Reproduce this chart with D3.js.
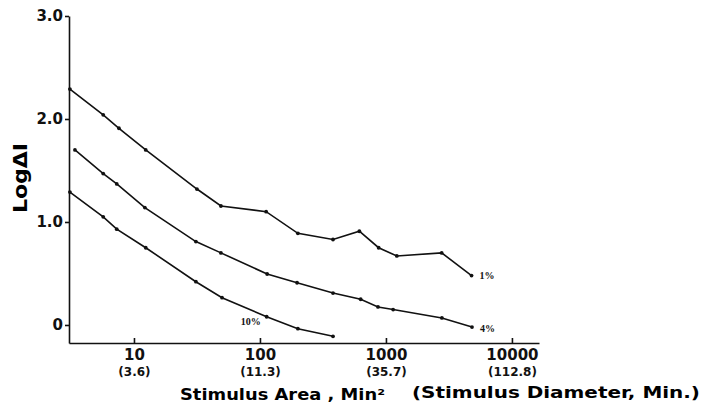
<!DOCTYPE html>
<html>
<head>
<meta charset="utf-8">
<script src="https://cdn.jsdelivr.net/npm/d3@7"></script>
<style>
  html, body { margin: 0; padding: 0; background: #fff; }
  svg { display: block; }
  .axis path, .axis line { stroke: #111; stroke-width: 1.6px; }
  .axis text { font-family: "DejaVu Sans", sans-serif; font-weight: bold; fill: #111; }
</style>
</head>
<body>
<div id="chart"></div>
<script>
// stimulus area (min^2) and log delta I for each curve
const area_1pct  = [3.1, 5.7, 7.6, 12.4, 31.6, 49, 112, 200, 380, 615, 875, 1220, 2770, 4780];
const logdi_1pct = [2.29, 2.04, 1.91, 1.70, 1.32, 1.155, 1.10, 0.89, 0.83, 0.91, 0.75, 0.67, 0.70, 0.48];

const area_4pct  = [3.4, 5.7, 7.3, 12.2, 31, 49, 114, 197, 380, 630, 865, 1140, 2780, 4820];
const logdi_4pct = [1.70, 1.47, 1.37, 1.14, 0.81, 0.70, 0.495, 0.41, 0.31, 0.25, 0.175, 0.15, 0.068, -0.02];

const area_10pct  = [3.1, 5.7, 7.3, 12.4, 31, 50, 113, 200, 380];
const logdi_10pct = [1.29, 1.05, 0.93, 0.75, 0.42, 0.265, 0.08, -0.036, -0.11];

const curve_names = ["1%", "4%", "10%"];

const x_ticks = [10, 100, 1000, 10000];
const x_sub_labels = ["(3.6)", "(11.3)", "(35.7)", "(112.8)"];
const y_ticks = [0, 1, 2, 3];
const y_tick_labels = ["0", "1.0", "2.0", "3.0"];

const W = 703, H = 405;
const margin = {left: 69, top: 16, right: 164, bottom: 62};

let svg = d3.select("#chart").append("svg")
  .attr("width", W).attr("height", H);

let xScale = d3.scaleLog()
  .domain([3.05, 16400])
  .range([margin.left, W - margin.right]);

let yScale = d3.scaleLinear()
  .domain([-0.175, 3.0])
  .range([H - margin.bottom, margin.top]);

// axes
let yAxis = d3.axisLeft(yScale)
  .tickValues(y_ticks)
  .tickSize(4)
  .tickPadding(2)
  .tickSizeOuter(0)
  .tickFormat((d, i) => y_tick_labels[i]);

let gy = svg.append("g").attr("class", "axis")
  .attr("transform", "translate(" + margin.left + ",0)")
  .call(yAxis);
gy.selectAll("text").style("font-size", "15px");

let xAxis = d3.axisBottom(xScale)
  .tickValues(x_ticks)
  .tickSize(-5)
  .tickSizeOuter(0)
  .tickFormat("");

let gx = svg.append("g").attr("class", "axis")
  .attr("transform", "translate(0," + (H - margin.bottom) + ")")
  .call(xAxis);

gx.selectAll(".tick").append("text")
  .attr("y", 17)
  .attr("text-anchor", "middle")
  .style("font-size", "15px")
  .text(d => d3.format("d")(d));

gx.selectAll(".tick").append("text")
  .attr("y", 33)
  .attr("text-anchor", "middle")
  .style("font-size", "12px")
  .text((d, i) => x_sub_labels[i]);

// axis titles
svg.append("text")
  .attr("transform", "translate(27,178) rotate(-90)")
  .attr("text-anchor", "middle")
  .style("font-family", "'DejaVu Sans', sans-serif")
  .style("font-weight", "bold")
  .style("font-size", "20px")
  .attr("textLength", 70)
  .attr("lengthAdjust", "spacingAndGlyphs")
  .text("LogΔI");

svg.append("text")
  .attr("x", 180).attr("y", 400)
  .style("font-family", "'DejaVu Sans', sans-serif")
  .style("font-weight", "bold")
  .style("font-size", "16px")
  .attr("textLength", 205)
  .attr("lengthAdjust", "spacingAndGlyphs")
  .text("Stimulus Area , Min²");

svg.append("text")
  .attr("x", 412).attr("y", 398)
  .style("font-family", "'DejaVu Sans', sans-serif")
  .style("font-weight", "bold")
  .style("font-size", "16px")
  .attr("textLength", 288)
  .attr("lengthAdjust", "spacingAndGlyphs")
  .text("(Stimulus Diameter, Min.)");

// curves
let series = [
  {name: curve_names[0], x: area_1pct, y: logdi_1pct},
  {name: curve_names[1], x: area_4pct, y: logdi_4pct},
  {name: curve_names[2], x: area_10pct, y: logdi_10pct}
];

let line = d3.line()
  .x(function(d) { return xScale(d[0]); })
  .y(function(d) { return yScale(d[1]); });

series.forEach(function(s) {
  let pts = s.x.map((v, i) => [v, s.y[i]]);
  svg.append("path")
    .datum(pts)
    .attr("d", line)
    .attr("fill", "none")
    .attr("stroke", "#111")
    .attr("stroke-width", 1.6);
  svg.selectAll(null)
    .data(pts)
    .enter().append("circle")
    .attr("cx", d => xScale(d[0]))
    .attr("cy", d => yScale(d[1]))
    .attr("r", 1.9)
    .attr("fill", "#111");
});

// curve labels
function curveLabel(s, dx, dy) {
  let n = s.x.length - 1;
  svg.append("text")
    .attr("x", xScale(s.x[n]) + dx)
    .attr("y", yScale(s.y[n]) + dy)
    .style("font-family", "'Liberation Serif', serif")
    .style("font-weight", "bold")
    .style("font-size", "10px")
    .style("fill", "#111")
    .text(s.name);
}
curveLabel(series[0], 8, 3);
curveLabel(series[1], 8, 5);
// 10% label sits below the curve near the 100 tick
svg.append("text")
  .attr("x", xScale(series[2].x[6]) - 26)
  .attr("y", yScale(series[2].y[6]) + 8)
  .style("font-family", "'Liberation Serif', serif")
  .style("font-weight", "bold")
  .style("font-size", "10px")
  .style("fill", "#111")
  .text(series[2].name);
</script>
</body>
</html>
